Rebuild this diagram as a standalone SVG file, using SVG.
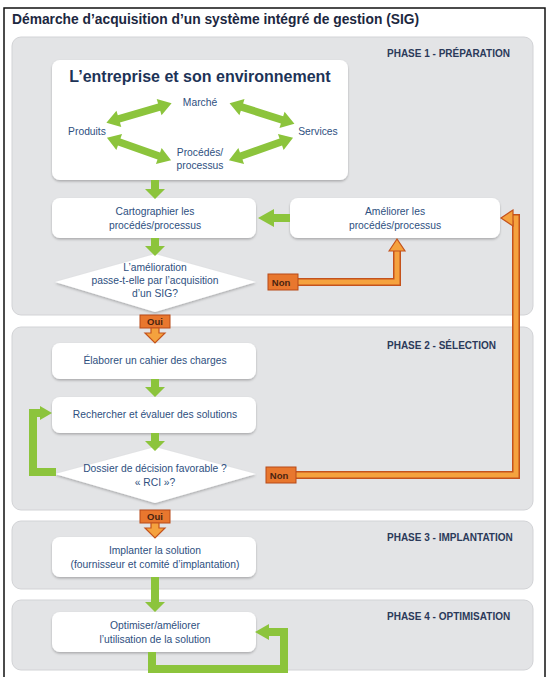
<svg xmlns="http://www.w3.org/2000/svg" width="547" height="677" viewBox="0 0 547 677">
<defs>
<style>
text{font-family:"Liberation Sans",Arial,sans-serif}
.title{font-size:13.8px;font-weight:bold;fill:#1c2740}
.phase{font-size:10px;font-weight:bold;fill:#2b3a5a}
.panel{fill:#e3e4e6;stroke:#d2d3d6;stroke-width:1}
.box{fill:#ffffff;filter:url(#sh)}
.t{font-size:10.3px;fill:#2e4f80;text-anchor:middle}
.big{font-size:16px;font-weight:bold;fill:#1d3357;text-anchor:middle}
.g{fill:#8cc43c}
.gl{fill:none;stroke:#8cc43c;stroke-width:8;stroke-linejoin:miter}
.ol{fill:none;stroke:#c4521c;stroke-width:8;stroke-linejoin:miter}
.oi{fill:none;stroke:#f5a23e;stroke-width:5;stroke-linejoin:miter}
.oh{fill:#f5a23e;stroke:#c4521c;stroke-width:1.2}
.lab{fill:#e8772e;stroke:#b84a18;stroke-width:1}
.lt{font-size:9.5px;font-weight:bold;fill:#4a2410;text-anchor:middle}
</style>
<filter id="sh" x="-10%" y="-10%" width="120%" height="130%">
<feDropShadow dx="0" dy="1.5" stdDeviation="1.2" flood-color="#000" flood-opacity="0.25"/>
</filter>
<polygon id="dbl" points="-34,0 -21,-8.5 -21,-3.8 21,-3.8 21,-8.5 34,0 21,8.5 21,3.8 -21,3.8 -21,8.5"/>
</defs>
<rect x="0" y="0" width="547" height="677" fill="#ffffff"/>
<rect x="4" y="8" width="541" height="672" fill="none" stroke="#111" stroke-width="1.5"/>
<text class="title" x="12" y="24">Démarche d’acquisition d’un système intégré de gestion (SIG)</text>

<g id="phase1"><rect class="panel" x="12" y="37" width="521" height="278" rx="9"/><text class="phase" x="387" y="57">PHASE 1 - PRÉPARATION</text></g>
<g id="phase2"><rect class="panel" x="12" y="327" width="521" height="183" rx="9"/><text class="phase" x="387" y="349">PHASE 2 - SÉLECTION</text></g>
<g id="phase3"><rect class="panel" x="12" y="521" width="521" height="68" rx="9"/><text class="phase" x="387" y="541">PHASE 3 - IMPLANTATION</text></g>
<g id="phase4"><rect class="panel" x="12" y="600" width="521" height="70" rx="9"/><text class="phase" x="387" y="620">PHASE 4 - OPTIMISATION</text></g>

<g id="entreprise">
<rect class="box" x="52" y="60" width="296" height="120" rx="8"/>
<text class="big" x="200" y="82">L’entreprise et son environnement</text>
<text class="t" x="200" y="106" font-size="9">Marché</text>
<text class="t" x="87" y="135" font-size="9">Produits</text>
<text class="t" x="318" y="135" font-size="9">Services</text>
<text class="t" x="200" y="156" font-size="9">Procédés/</text>
<text class="t" x="200" y="169" font-size="9">processus</text>
<use href="#dbl" class="g" transform="translate(139,113) rotate(-16.5)"/>
<use href="#dbl" class="g" transform="translate(262,113.5) rotate(17.5)"/>
<use href="#dbl" class="g" transform="translate(139,149) rotate(19.5)"/>
<use href="#dbl" class="g" transform="translate(261,149) rotate(-19.5)"/>
</g>

<g id="cartographier"><rect class="box" x="52" y="198" width="204" height="40" rx="8"/><text class="t" x="155" y="215">Cartographier les</text><text class="t" x="155" y="229">procédés/processus</text></g>
<g id="ameliorer"><rect class="box" x="290" y="198" width="210" height="40" rx="8"/><text class="t" x="395" y="215">Améliorer les</text><text class="t" x="395" y="229">procédés/processus</text></g>
<g id="decision1"><polygon class="box" points="155,254 256,282 155,312 55,282"/><text class="t" x="155" y="271">L’amélioration</text><text class="t" x="155" y="284">passe-t-elle par l’acquisition</text><text class="t" x="155" y="297">d’un SIG?</text></g>
<g id="elaborer"><rect class="box" x="52" y="343" width="204" height="36" rx="8"/><text class="t" x="155" y="364">Élaborer un cahier des charges</text></g>
<g id="rechercher"><rect class="box" x="52" y="397" width="204" height="36" rx="8"/><text class="t" x="155" y="418">Rechercher et évaluer des solutions</text></g>
<g id="decision2"><polygon class="box" points="155,447 256,474 155,503 55,474"/><text class="t" x="155" y="472">Dossier de décision favorable ?</text><text class="t" x="155" y="486">« RCI »?</text></g>
<g id="implanter"><rect class="box" x="52" y="537" width="204" height="40" rx="8"/><text class="t" x="155" y="554">Implanter la solution</text><text class="t" x="155" y="568">(fournisseur et comité d’implantation)</text></g>
<g id="optimiser"><rect class="box" x="52" y="612" width="204" height="40" rx="8"/><text class="t" x="155" y="629">Optimiser/améliorer</text><text class="t" x="155" y="643">l’utilisation de la solution</text></g>

<g id="connectors">
<polygon class="g" points="151,180 159,180 159,189 165,189 155,199 145,189 151,189"/>
<polygon class="g" points="151,238 159,238 159,246 165,246 155,256 145,246 151,246"/>
<polygon class="g" points="290,214 274,214 274,209 258,218 274,227 274,222 290,222"/>
<polygon class="g" points="151,379 159,379 159,387 165,387 155,397 145,387 151,387"/>
<polygon class="g" points="151,433 159,433 159,441 165,441 155,451 145,441 151,441"/>
<polygon class="g" points="151,577 159,577 159,602 165,602 155,612 145,602 151,602"/>
<polyline class="gl" points="56,472 33,472 33,413 42,413"/>
<polygon class="g" points="40,406 52,413 40,420"/>
<polyline class="gl" points="152,652 152,669 284,669 284,632 268,632"/>
<polygon class="g" points="269,624 255,632 269,640"/>

<polyline class="ol" points="296,282 397,282 397,250"/>
<polyline class="oi" points="296,282 397,282 397,250"/>
<polygon class="oh" points="389,251 397,239 405,251"/>
<polyline class="ol" points="296,475 516,475 516,218 512,218"/>
<polyline class="oi" points="296,475 516,475 516,218 512,218"/>
<polygon class="oh" points="513,210 501,218 513,226"/>

<rect class="lab" x="268" y="274" width="30" height="16"/><text class="lt" x="281" y="286">Non</text>
<rect class="lab" x="266" y="467" width="30" height="16"/><text class="lt" x="279" y="479">Non</text>

<rect class="lab" x="140" y="315" width="30" height="13"/><text class="lt" x="155" y="325">Oui</text>
<polygon class="oh" points="151,328 159,328 159,333 165,333 155,343 145,333 151,333"/>
<rect class="lab" x="140" y="510" width="30" height="13"/><text class="lt" x="155" y="520">Oui</text>
<polygon class="oh" points="151,523 159,523 159,528 165,528 155,538 145,528 151,528"/>
</g>
</svg>
